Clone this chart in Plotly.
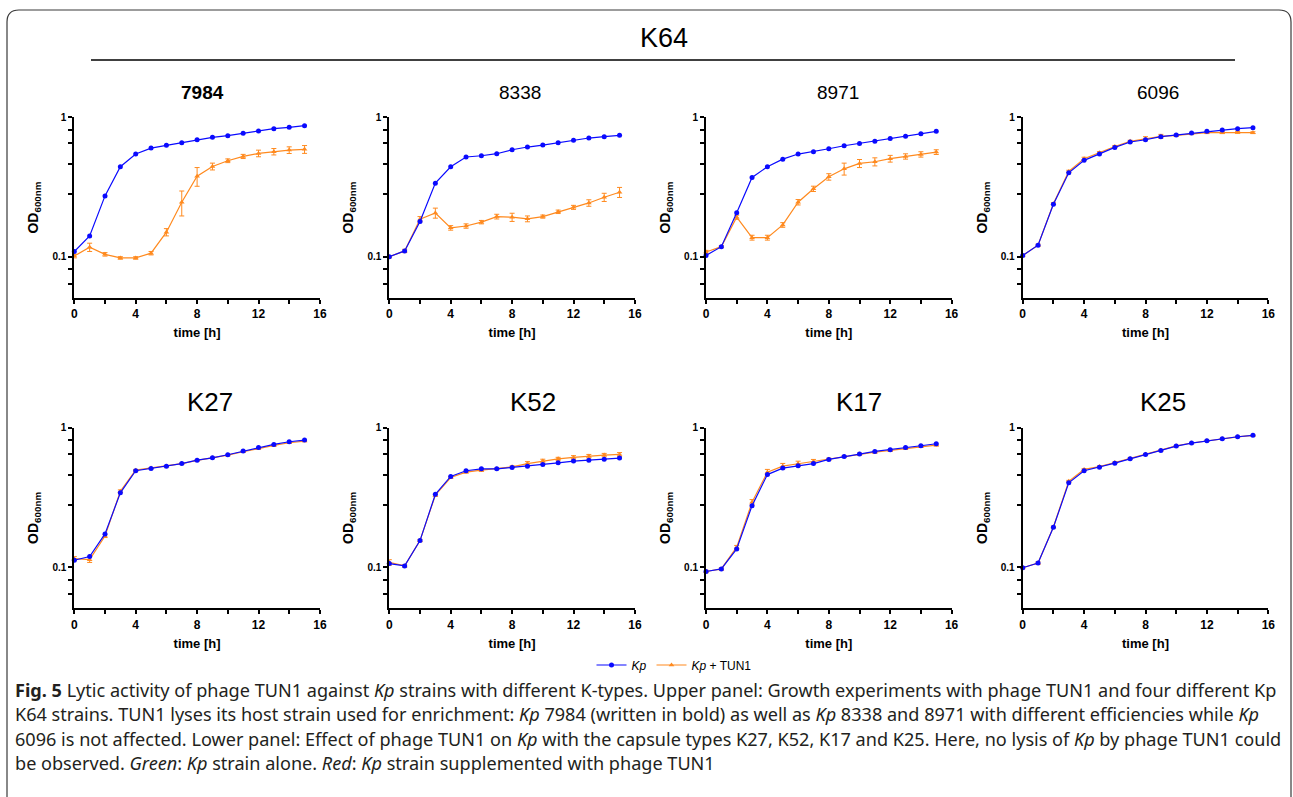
import math
import plotly.graph_objects as go

# sampling times (h)
time_h = list(range(16))

# panel titles
panel_titles = ["7984", "8338", "8971", "6096", "K27", "K52", "K17", "K25"]

# OD600 readings, Kp alone
kp_7984 = [0.109, 0.141, 0.273, 0.442, 0.545, 0.601, 0.629, 0.657, 0.690, 0.718, 0.738, 0.767, 0.797, 0.829, 0.847, 0.871]
kp_8338 = [0.100, 0.110, 0.179, 0.337, 0.442, 0.519, 0.530, 0.548, 0.585, 0.612, 0.632, 0.657, 0.684, 0.710, 0.726, 0.742]
kp_8971 = [0.102, 0.118, 0.207, 0.370, 0.442, 0.501, 0.545, 0.567, 0.595, 0.625, 0.650, 0.672, 0.706, 0.730, 0.763, 0.793]
kp_6096 = [0.102, 0.121, 0.238, 0.400, 0.491, 0.545, 0.608, 0.665, 0.690, 0.726, 0.746, 0.771, 0.793, 0.811, 0.829, 0.843]
kp_k27 = [0.112, 0.119, 0.173, 0.341, 0.491, 0.510, 0.530, 0.553, 0.585, 0.608, 0.640, 0.680, 0.722, 0.759, 0.793, 0.815]
kp_k52 = [0.106, 0.102, 0.155, 0.333, 0.447, 0.491, 0.507, 0.507, 0.519, 0.530, 0.545, 0.560, 0.576, 0.585, 0.595, 0.605]
kp_k17 = [0.093, 0.097, 0.135, 0.276, 0.461, 0.513, 0.533, 0.553, 0.592, 0.622, 0.647, 0.676, 0.695, 0.722, 0.742, 0.767]
kp_k25 = [0.099, 0.107, 0.193, 0.402, 0.491, 0.521, 0.557, 0.598, 0.643, 0.687, 0.738, 0.776, 0.806, 0.834, 0.861, 0.881]

# OD600 readings, Kp + phage TUN1 (mean and error)
tun1_7984 = [0.101, 0.117, 0.104, 0.098, 0.098, 0.106, 0.150, 0.246, 0.378, 0.444, 0.488, 0.524, 0.551, 0.567, 0.582, 0.589]
tun1_7984_err = [0.003, 0.008, 0.003, 0.002, 0.002, 0.003, 0.009, 0.050, 0.058, 0.025, 0.015, 0.018, 0.030, 0.030, 0.032, 0.038]
tun1_8338 = [0.100, 0.110, 0.186, 0.206, 0.161, 0.166, 0.177, 0.194, 0.192, 0.187, 0.194, 0.210, 0.226, 0.243, 0.267, 0.290]
tun1_8338_err = [0.002, 0.003, 0.008, 0.017, 0.006, 0.006, 0.005, 0.0075, 0.013, 0.009, 0.005, 0.006, 0.0075, 0.013, 0.018, 0.024]
tun1_8971 = [0.108, 0.118, 0.192, 0.137, 0.137, 0.169, 0.246, 0.307, 0.374, 0.427, 0.467, 0.480, 0.505, 0.524, 0.542, 0.563]
tun1_8971_err = [0.003, 0.002, 0.0065, 0.0055, 0.0055, 0.0065, 0.011, 0.0135, 0.020, 0.042, 0.031, 0.032, 0.028, 0.023, 0.024, 0.022]
tun1_6096 = [0.102, 0.121, 0.240, 0.409, 0.505, 0.557, 0.618, 0.672, 0.703, 0.730, 0.742, 0.763, 0.776, 0.776, 0.780, 0.776]
tun1_6096_err = [0.002, 0.002, 0.004, 0.008, 0.012, 0.010, 0.010, 0.012, 0.023, 0.024, 0.012, 0.012, 0.012, 0.012, 0.012, 0.012]
tun1_k27 = [0.115, 0.113, 0.167, 0.350, 0.496, 0.513, 0.530, 0.553, 0.583, 0.608, 0.636, 0.672, 0.710, 0.746, 0.780, 0.802]
tun1_k27_err = [0.004, 0.005, 0.004, 0.008, 0.006, 0.005, 0.005, 0.005, 0.005, 0.005, 0.006, 0.006, 0.006, 0.008, 0.008, 0.008]
tun1_k52 = [0.108, 0.102, 0.155, 0.328, 0.439, 0.480, 0.496, 0.507, 0.524, 0.553, 0.576, 0.598, 0.612, 0.625, 0.636, 0.643]
tun1_k52_err = [0.005, 0.002, 0.003, 0.006, 0.006, 0.006, 0.010, 0.006, 0.008, 0.018, 0.018, 0.015, 0.018, 0.018, 0.018, 0.020]
tun1_k17 = [0.093, 0.097, 0.139, 0.292, 0.480, 0.530, 0.551, 0.573, 0.595, 0.622, 0.647, 0.668, 0.687, 0.710, 0.734, 0.750]
tun1_k17_err = [0.002, 0.002, 0.004, 0.013, 0.022, 0.024, 0.024, 0.019, 0.010, 0.010, 0.010, 0.010, 0.010, 0.012, 0.012, 0.012]
tun1_k25 = [0.099, 0.107, 0.194, 0.413, 0.502, 0.526, 0.562, 0.602, 0.645, 0.689, 0.740, 0.777, 0.806, 0.834, 0.860, 0.880]
tun1_k25_err = [0.002, 0.002, 0.003, 0.006, 0.006, 0.006, 0.006, 0.006, 0.006, 0.006, 0.006, 0.006, 0.006, 0.006, 0.006, 0.006]

# axis ticks
x_tickvals = [0, 4, 8, 12, 16]
x_minor_tickvals = [2, 6, 10, 14]
y_tickvals = [0.1, 1]
y_ticktext = ["0.1", "1"]
y_minor_tickvals = [0.064, 0.081, 0.28, 0.46, 0.65, 0.81]

kp_series = [kp_7984, kp_8338, kp_8971, kp_6096, kp_k27, kp_k52, kp_k17, kp_k25]
tun1_series = [tun1_7984, tun1_8338, tun1_8971, tun1_6096, tun1_k27, tun1_k52, tun1_k17, tun1_k25]
tun1_errors = [tun1_7984_err, tun1_8338_err, tun1_8971_err, tun1_6096_err,
               tun1_k27_err, tun1_k52_err, tun1_k17_err, tun1_k25_err]

W, H = 1293, 797
BLUE = "#0a0aff"
ORANGE = "#ff8a1f"
FONT = "Liberation Sans"

# pixel layout of the panels
col_left = [74.3, 389.3, 706.0, 1022.7]
row_top = [117.3, 427.7]
plot_w, plot_h = 245.6, 180.4
title_x = [203, 520, 838, 1158, 210, 533, 859, 1163]


def px(x):
    return x / W


def py(y):
    return 1 - y / H


fig = go.Figure()
annotations = []

for i, name in enumerate(panel_titles):
    r, c = divmod(i, 4)
    n = i + 1
    left, top = col_left[c], row_top[r]
    xa, ya = f"x{n}", f"y{n}"

    fig.add_trace(go.Scatter(
        x=time_h, y=tun1_series[i], xaxis=xa, yaxis=ya,
        mode="lines+markers", name="<i>Kp</i> + TUN1", legendgroup="tun1",
        showlegend=(i == 0), legendrank=2, cliponaxis=False,
        line=dict(color=ORANGE, width=1.2),
        marker=dict(symbol="triangle-up", size=5, color=ORANGE),
        error_y=dict(type="data", array=tun1_errors[i], color=ORANGE, thickness=1, width=2.5),
    ))
    fig.add_trace(go.Scatter(
        x=time_h, y=kp_series[i], xaxis=xa, yaxis=ya,
        mode="lines+markers", name="<i>Kp</i>", legendgroup="kp",
        showlegend=(i == 0), legendrank=1, cliponaxis=False,
        line=dict(color=BLUE, width=1.2),
        marker=dict(symbol="circle", size=5, color=BLUE),
    ))

    axis_common = dict(showline=True, linecolor="black", linewidth=2, showgrid=False,
                       zeroline=False, ticks="outside", ticklen=4, tickwidth=1.5,
                       tickcolor="black", automargin=False)
    title_font = dict(family=FONT, size=13, color="black", weight="bold")
    fig.update_layout({
        f"xaxis{n}": dict(domain=[px(left), px(left + plot_w)], anchor=ya, range=[0, 16],
                          tickmode="array", tickvals=x_tickvals,
                          minor=dict(tickvals=x_minor_tickvals, ticks="outside", ticklen=4,
                                     tickwidth=1.5, tickcolor="black", showgrid=False),
                          tickfont=dict(family=FONT, size=12, color="black", weight="bold"),
                          title=dict(text="time [h]", font=title_font, standoff=8),
                          **axis_common),
        f"yaxis{n}": dict(domain=[py(top + plot_h), py(top)], anchor=xa, type="log",
                          range=[math.log10(0.0508), 0],
                          tickmode="array", tickvals=y_tickvals, ticktext=y_ticktext,
                          minor=dict(tickvals=y_minor_tickvals, ticks="outside", ticklen=4,
                                     tickwidth=1.5, tickcolor="black", showgrid=False),
                          tickfont=dict(family=FONT, size=10, color="black", weight="bold"),
                          title=dict(text="OD<sub>600nm</sub>", font=dict(title_font, size=14),
                                     standoff=10),
                          **axis_common),
    })

    # panel title
    if r == 0:
        tfont = dict(family=FONT, size=19, color="black", weight="bold" if i == 0 else "normal")
        ty = 92
    else:
        tfont = dict(family=FONT, size=26, color="black")
        ty = 402
    annotations.append(dict(text=name, x=px(title_x[i]), y=py(ty), xref="paper", yref="paper",
                            showarrow=False, font=tfont, xanchor="center", yanchor="middle"))

# group title
annotations.append(dict(text="K64", x=px(664), y=py(38), xref="paper", yref="paper",
                        showarrow=False, font=dict(family=FONT, size=27, color="black"),
                        xanchor="center", yanchor="middle"))

# figure caption
caption_lines = [
    "<b>Fig. 5</b> Lytic activity of phage TUN1 against <i>Kp</i> strains with different K-types. "
    "Upper panel: Growth experiments with phage TUN1 and four different Kp",
    "K64 strains. TUN1 lyses its host strain used for enrichment: <i>Kp</i> 7984 (written in bold) "
    "as well as <i>Kp</i> 8338 and 8971 with different efficiencies while <i>Kp</i>",
    "6096 is not affected. Lower panel: Effect of phage TUN1 on <i>Kp</i> with the capsule types "
    "K27, K52, K17 and K25. Here, no lysis of <i>Kp</i> by phage TUN1 could",
    "be observed. <i>Green</i>: <i>Kp</i> strain alone. <i>Red</i>: <i>Kp</i> strain supplemented "
    "with phage TUN1",
]
for k, line in enumerate(caption_lines):
    annotations.append(dict(text=line, x=px(13), y=py(690 + 24.4 * k), xref="paper", yref="paper",
                            showarrow=False, font=dict(family="Noto Sans", size=18.1, color="#231f20"),
                            xanchor="left", yanchor="middle", align="left"))

# frame and separator line
x0, x1, y0, y1, rad = 7, 1291, 10, 805, 12
frame = (f"M {px(x0)},{py(y1)} L {px(x0)},{py(y0 + rad)} Q {px(x0)},{py(y0)} {px(x0 + rad)},{py(y0)} "
         f"L {px(x1 - rad)},{py(y0)} Q {px(x1)},{py(y0)} {px(x1)},{py(y0 + rad)} L {px(x1)},{py(y1)}")
shapes = [
    dict(type="path", path=frame, xref="paper", yref="paper", line=dict(color="#3a3a3a", width=1.2)),
    dict(type="line", x0=px(91), x1=px(1235), y0=py(60), y1=py(60), xref="paper", yref="paper",
         line=dict(color="black", width=1.5)),
]

fig.update_layout(
    width=W, height=H,
    margin=dict(l=0, r=0, t=0, b=0, autoexpand=False),
    paper_bgcolor="white", plot_bgcolor="white",
    annotations=annotations, shapes=shapes,
    legend=dict(orientation="h", x=px(674), y=py(665), xanchor="center", yanchor="middle",
                font=dict(family=FONT, size=12, color="black"), itemwidth=30,
                bgcolor="rgba(0,0,0,0)"),
)

# the page body has a default 8px margin; drop it so the figure fills the window
fig.write_html("out.html", config={"displayModeBar": False},
               post_script="document.body.style.margin = '0px';")
